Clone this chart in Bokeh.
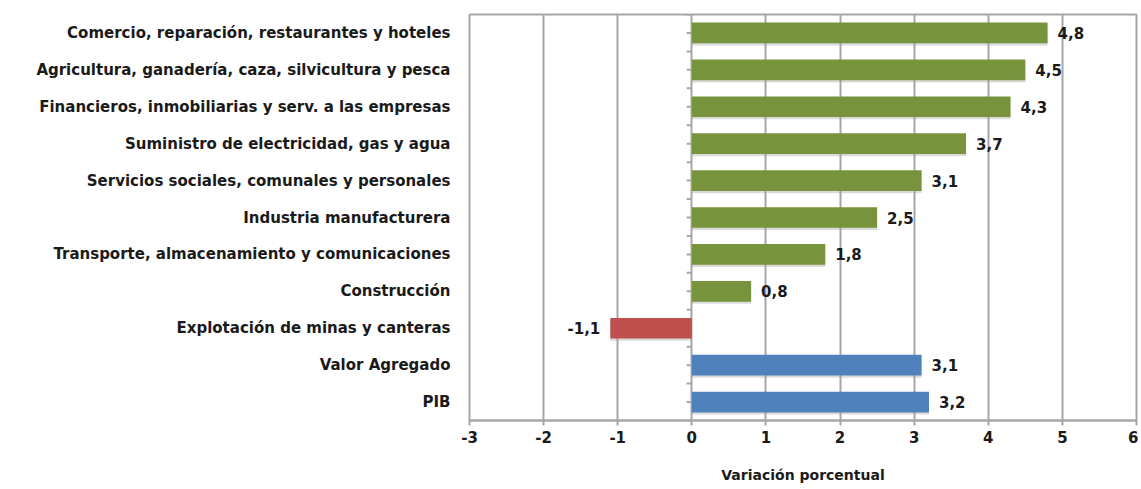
from bokeh.plotting import figure
from bokeh.models import ColumnDataSource, FactorRange, FixedTicker
from bokeh.transform import dodge
from bokeh.core.properties import value
from bokeh.embed import file_html
from bokeh.resources import INLINE

categories = [
    "Comercio, reparación, restaurantes y hoteles",
    "Agricultura, ganadería, caza, silvicultura y pesca",
    "Financieros, inmobiliarias y serv. a las empresas",
    "Suministro de electricidad, gas y agua",
    "Servicios sociales, comunales y personales",
    "Industria manufacturera",
    "Transporte, almacenamiento y comunicaciones",
    "Construcción",
    "Explotación de minas y canteras",
    "Valor Agregado",
    "PIB",
]
values = [4.8, 4.5, 4.3, 3.7, 3.1, 2.5, 1.8, 0.8, -1.1, 3.1, 3.2]
groups = ["sector"] * 9 + ["total"] * 2
x_ticks = [-3, -2, -1, 0, 1, 2, 3, 4, 5, 6]

GREEN = "#77933C"
RED = "#C0504D"
BLUE = "#4F81BD"
GRID = "#a6a6a6"
FONT = "DejaVu Sans"
TXT = "#1a1a1a"

colors = []
for v, g in zip(values, groups):
    if g == "total":
        colors.append(BLUE)
    elif v < 0:
        colors.append(RED)
    else:
        colors.append(GREEN)
labels = [f"{v:.1f}".replace(".", ",") for v in values]

src = ColumnDataSource(dict(cat=categories, val=values, color=colors, lbl=labels))
pos = ColumnDataSource(dict(cat=[c for c, v in zip(categories, values) if v >= 0],
                            val=[v for v in values if v >= 0],
                            lbl=[l for l, v in zip(labels, values) if v >= 0]))
neg = ColumnDataSource(dict(cat=[c for c, v in zip(categories, values) if v < 0],
                            val=[v for v in values if v < 0],
                            lbl=[l for l, v in zip(labels, values) if v < 0]))

p = figure(width=1138, height=489, output_backend="svg", toolbar_location=None,
           y_range=FactorRange(factors=list(reversed(categories)), range_padding=0),
           x_range=(x_ticks[0], x_ticks[-1]),
           min_border_left=469, min_border_right=2, min_border_top=14, min_border_bottom=69)

p.outline_line_color = GRID
p.outline_line_width = 2
p.background_fill_color = "white"
p.border_fill_color = "white"

p.xgrid.grid_line_color = GRID
p.xgrid.grid_line_width = 2
p.ygrid.grid_line_color = None

p.xaxis.ticker = FixedTicker(ticks=x_ticks)
p.xaxis.major_label_overrides = {t: str(t) for t in x_ticks}
p.xaxis.axis_line_color = GRID
p.xaxis.axis_line_width = 2
p.xaxis.major_tick_line_color = GRID
p.xaxis.major_tick_line_width = 2
p.xaxis.major_tick_in = 0
p.xaxis.major_tick_out = 5
p.xaxis.minor_tick_line_color = None
p.xaxis.major_label_text_font = FONT
p.xaxis.major_label_text_font_style = "bold"
p.xaxis.major_label_text_font_size = "15px"
p.xaxis.major_label_text_color = TXT
p.xaxis.major_label_standoff = 5
p.xaxis.axis_label = "Variación porcentual"
p.xaxis.axis_label_text_font = FONT
p.xaxis.axis_label_text_font_style = "bold"
p.xaxis.axis_label_text_font_size = "14px"
p.xaxis.axis_label_text_color = TXT
p.xaxis.axis_label_standoff = 21

p.yaxis.axis_line_color = None
p.yaxis.major_tick_line_color = None
p.yaxis.minor_tick_line_color = None
p.yaxis.major_label_text_font = FONT
p.yaxis.major_label_text_font_style = "bold"
p.yaxis.major_label_text_font_size = "15px"
p.yaxis.major_label_text_color = TXT
p.yaxis.major_label_standoff = 13

# small tick marks on the zero line
p.segment(x0=-0.07, x1=0, y0=dodge("cat", 0, range=p.y_range), y1=dodge("cat", 0, range=p.y_range),
          source=src, line_color=GRID, line_width=2)
p.segment(x0=-0.07, x1=0, y0=dodge("cat", 0.5, range=p.y_range), y1=dodge("cat", 0.5, range=p.y_range),
          source=src, line_color=GRID, line_width=2)

# shadow
p.hbar(y=dodge("cat", -0.06, range=p.y_range), left=0, right="val", height=0.56, source=src,
       fill_color="#999999", fill_alpha=0.35, line_color=None)
p.hbar(y="cat", left=0, right="val", height=0.56, source=src,
       fill_color="color", line_color=None)

p.text(x="val", y="cat", text="lbl", source=pos, x_offset=10, text_align="left",
       text_baseline="middle", text_font=value(FONT), text_font_style="bold",
       text_font_size="15px", text_color=TXT)
p.text(x="val", y="cat", text="lbl", source=neg, x_offset=-10, text_align="right",
       text_baseline="middle", text_font=value(FONT), text_font_style="bold",
       text_font_size="15px", text_color=TXT)

open("out.html", "w").write(file_html(p, INLINE))
